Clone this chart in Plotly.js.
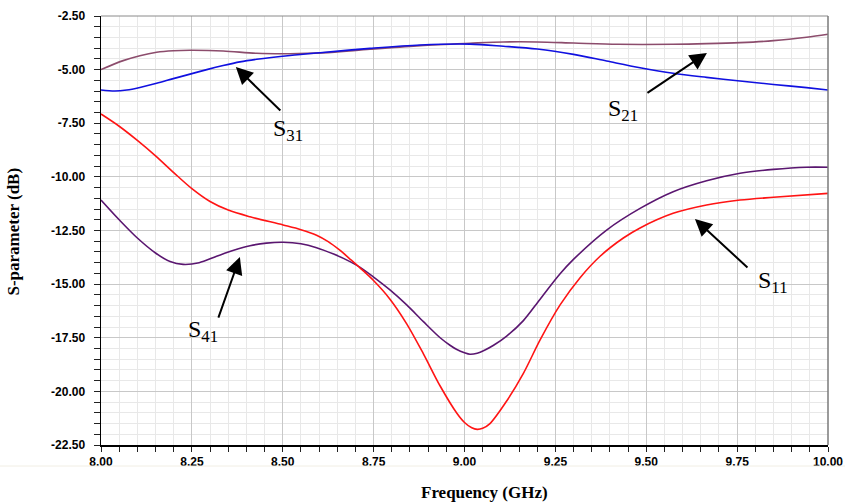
<!DOCTYPE html>
<html>
<head>
<meta charset="utf-8">
<script src="https://cdn.plot.ly/plotly-3.0.1.min.js"></script>
<style>
  html, body { margin: 0; padding: 0; background: #ffffff; }
  #chart { width: 845px; height: 503px; }
</style>
</head>
<body>
<div id="chart"></div>
<script>
// S-parameter sweep, 8–10 GHz (dB)
const freqS21 = [8.000, 8.061, 8.107, 8.153, 8.199, 8.245, 8.336, 8.428, 8.520, 8.610, 8.740, 8.878, 9.015, 9.107, 9.200, 9.300, 9.422, 9.574, 9.666, 9.758, 9.850, 9.941, 10.000];
const s21 = [-5.00, -4.58, -4.35, -4.19, -4.12, -4.10, -4.13, -4.24, -4.26, -4.22, -4.05, -3.88, -3.77, -3.71, -3.71, -3.76, -3.82, -3.82, -3.79, -3.74, -3.65, -3.49, -3.35];

const freqS31 = [8.000, 8.038, 8.071, 8.107, 8.153, 8.199, 8.245, 8.291, 8.336, 8.382, 8.428, 8.520, 8.610, 8.740, 8.878, 9.015, 9.107, 9.200, 9.300, 9.391, 9.483, 9.574, 9.666, 9.758, 9.850, 9.941, 10.000];
const s31 = [-5.95, -6.00, -5.95, -5.83, -5.64, -5.42, -5.21, -5.00, -4.81, -4.64, -4.52, -4.34, -4.20, -4.01, -3.85, -3.81, -3.91, -4.04, -4.29, -4.60, -4.91, -5.17, -5.36, -5.53, -5.69, -5.84, -5.95];

const freqS11 = [8.000, 8.050, 8.100, 8.150, 8.200, 8.250, 8.300, 8.350, 8.410, 8.501, 8.550, 8.593, 8.625, 8.657, 8.685, 8.713, 8.749, 8.795, 8.841, 8.887, 8.933, 8.979, 9.000, 9.020, 9.035, 9.050, 9.070, 9.116, 9.162, 9.208, 9.263, 9.318, 9.373, 9.437, 9.483, 9.574, 9.666, 9.758, 9.850, 10.000];
const s11 = [-7.07, -7.64, -8.30, -9.02, -9.80, -10.55, -11.15, -11.55, -11.86, -12.24, -12.46, -12.72, -13.02, -13.42, -13.83, -14.25, -14.82, -15.70, -16.85, -18.25, -19.75, -21.02, -21.45, -21.70, -21.77, -21.72, -21.50, -20.45, -19.16, -17.60, -15.97, -14.70, -13.70, -12.85, -12.38, -11.70, -11.31, -11.08, -10.95, -10.77];

const freqS41 = [8.000, 8.050, 8.100, 8.150, 8.190, 8.226, 8.270, 8.318, 8.365, 8.410, 8.455, 8.501, 8.550, 8.593, 8.640, 8.685, 8.713, 8.749, 8.795, 8.841, 8.887, 8.933, 8.960, 8.979, 9.000, 9.015, 9.035, 9.055, 9.080, 9.116, 9.162, 9.208, 9.263, 9.299, 9.391, 9.483, 9.574, 9.666, 9.758, 9.850, 9.941, 10.000];
const s41 = [-11.08, -12.00, -12.85, -13.55, -13.95, -14.08, -14.00, -13.70, -13.42, -13.21, -13.09, -13.05, -13.12, -13.30, -13.60, -13.95, -14.22, -14.66, -15.27, -15.97, -16.75, -17.50, -17.85, -18.05, -18.20, -18.27, -18.22, -18.08, -17.85, -17.42, -16.70, -15.70, -14.52, -13.86, -12.48, -11.47, -10.69, -10.18, -9.83, -9.65, -9.55, -9.55];

// Axis tick labels (plain hyphen minus)
const xTickVals = [8.00, 8.25, 8.50, 8.75, 9.00, 9.25, 9.50, 9.75, 10.00];
const xTickText = ['8.00', '8.25', '8.50', '8.75', '9.00', '9.25', '9.50', '9.75', '10.00'];
const yTickVals = [-2.5, -5, -7.5, -10, -12.5, -15, -17.5, -20, -22.5];
const yTickText = ['-2.50', '-5.00', '-7.50', '-10.00', '-12.50', '-15.00', '-17.50', '-20.00', '-22.50'];

const xTitle = 'Frequency (GHz)';
const yTitle = 'S-parameter (dB)';

// Curve labels: [text, label x, label y, arrow head x, arrow head y, tail dx, tail dy]
const curveLabels = [
  ['S<sub>31</sub>', 8.514, -7.80, 8.371, -4.88, 46, 45],
  ['S<sub>21</sub>', 9.436, -6.87, 9.667, -4.22, -61, 41],
  ['S<sub>41</sub>', 8.281, -17.17, 8.382, -13.74, -22, 62],
  ['S<sub>11</sub>', 9.849, -14.88, 9.634, -11.96, 54, 50]
];

const lineStyle = (color) => ({ color: color, width: 1.6, shape: 'spline', smoothing: 0.9 });

const traces = [
  { x: freqS21, y: s21, mode: 'lines', name: 'S21', line: lineStyle('#8c4c6c') },
  { x: freqS31, y: s31, mode: 'lines', name: 'S31', line: lineStyle('#1010e0') },
  { x: freqS41, y: s41, mode: 'lines', name: 'S41', line: lineStyle('#5a1670') },
  { x: freqS11, y: s11, mode: 'lines', name: 'S11', line: lineStyle('#ff1414') }
];

const serif = 'Liberation Serif, Times New Roman, serif';
const annotations = [];
curveLabels.forEach(([txt, lx, ly, hx, hy, dx, dy]) => {
  annotations.push({
    x: hx, y: hy, xref: 'x', yref: 'y', text: '', showarrow: true,
    ax: dx, ay: dy, arrowhead: 2, arrowsize: 1.7, arrowwidth: 2, arrowcolor: '#000000'
  });
  annotations.push({
    x: lx, y: ly, xref: 'x', yref: 'y', text: txt, showarrow: false,
    font: { family: serif, size: 24, color: '#000000' },
    xanchor: 'center', yanchor: 'middle'
  });
});

// Axis titles, placed as in the original layout
annotations.push({
  x: 0.527, y: -0.110, xref: 'paper', yref: 'paper', text: '<b>' + xTitle + '</b>', showarrow: false,
  font: { family: serif, size: 17, color: '#000000' }, xanchor: 'center', yanchor: 'middle'
});
annotations.push({
  x: -0.120, y: 0.497, xref: 'paper', yref: 'paper', text: '<b>' + yTitle + '</b>', showarrow: false,
  textangle: -90,
  font: { family: serif, size: 17, color: '#000000' }, xanchor: 'center', yanchor: 'middle'
});

const tickFont = { family: 'Liberation Sans, Arial, sans-serif', size: 12, color: '#000000', weight: 'bold' };

const layout = {
  width: 845, height: 503,
  margin: { l: 101, r: 17, t: 16, b: 58 },
  paper_bgcolor: '#ffffff', plot_bgcolor: '#ffffff',
  showlegend: false,
  xaxis: {
    range: [8, 10],
    tickmode: 'array', tickvals: xTickVals, ticktext: xTickText,
    tickfont: tickFont,
    showline: true, linecolor: '#000000', linewidth: 1.5,
    ticks: 'outside', ticklen: 5, tickwidth: 1, tickcolor: '#222222',
    showgrid: true, gridcolor: '#c8c8c8', gridwidth: 1,
    zeroline: false,
    minor: { dtick: 0.05, tick0: 8, showgrid: true, gridcolor: '#e8e8e8', gridwidth: 1,
             ticks: 'outside', ticklen: 5, tickcolor: '#222222' }
  },
  yaxis: {
    range: [-22.5, -2.5],
    tickmode: 'array', tickvals: yTickVals, ticktext: yTickText,
    tickfont: tickFont,
    showline: true, linecolor: '#000000', linewidth: 1.5,
    ticks: 'outside', ticklen: 6, tickwidth: 1, tickcolor: '#222222',
    ticklabelstandoff: 6,
    showgrid: true, gridcolor: '#c8c8c8', gridwidth: 1,
    zeroline: false,
    minor: { dtick: 0.5, tick0: -2.5, showgrid: true, gridcolor: '#e8e8e8', gridwidth: 1,
             ticks: 'outside', ticklen: 6, tickcolor: '#222222' }
  },
  shapes: [
    { type: 'line', xref: 'paper', yref: 'paper', x0: 0, x1: 1, y0: 1, y1: 1,
      line: { color: '#8a8a8a', width: 1 } },
    { type: 'line', xref: 'paper', yref: 'paper', x0: 1, x1: 1, y0: 0, y1: 1,
      line: { color: '#7a7a7a', width: 1.5 } },
    { type: 'line', xref: 'paper', yref: 'paper', x0: -0.139, x1: 1.0234, y0: -0.049, y1: -0.049,
      line: { color: '#f1eee4', width: 1 } }
  ],
  annotations: annotations
};

Plotly.newPlot('chart', traces, layout, { staticPlot: true, displayModeBar: false });
</script>
</body>
</html>
